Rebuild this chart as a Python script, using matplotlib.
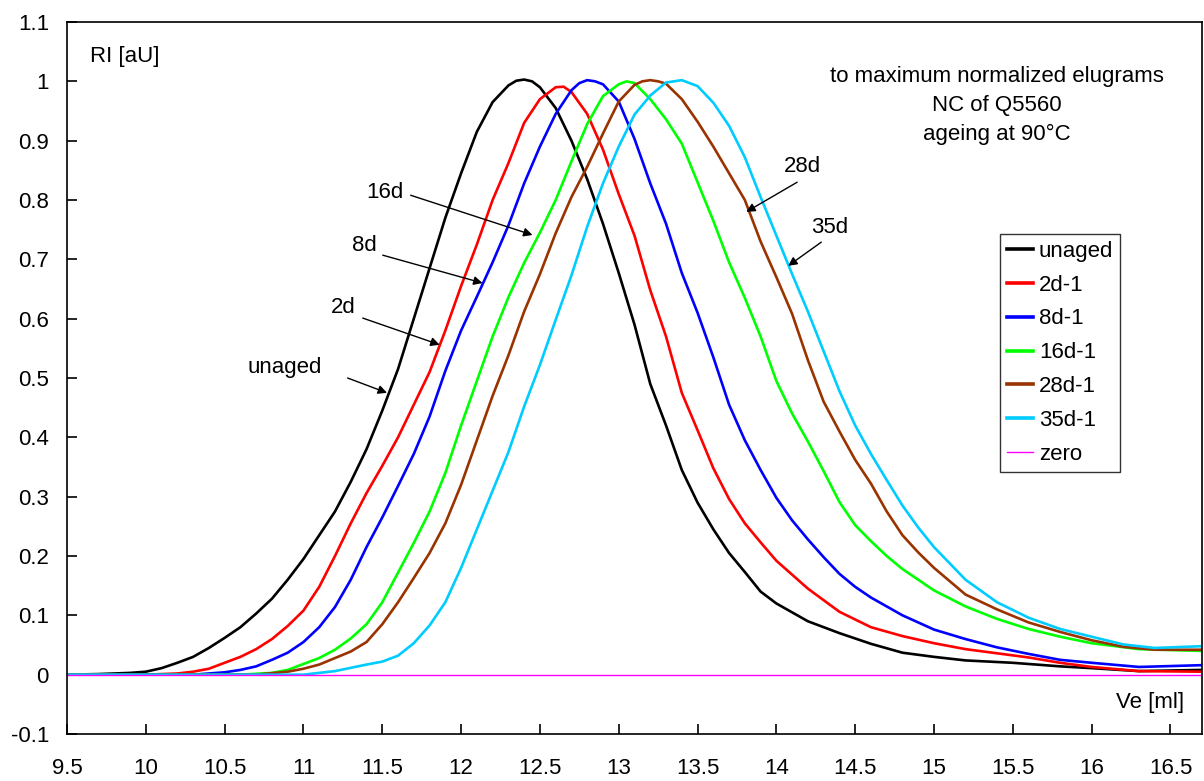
import matplotlib
matplotlib.use("Agg")
import matplotlib.pyplot as plt
import numpy as np

plt.rcParams['font.family'] = ['Liberation Sans', 'DejaVu Sans']

# ---------------- data ----------------
x_unaged = [9.5, 9.7, 9.9, 10.0, 10.1, 10.2, 10.3, 10.4, 10.5, 10.6, 10.7, 10.8, 10.9,
            11.0, 11.1, 11.2, 11.3, 11.4, 11.5, 11.6, 11.7, 11.8, 11.9, 12.0, 12.1, 12.2,
            12.3, 12.35, 12.4, 12.45, 12.5, 12.6, 12.7, 12.8, 12.9, 13.0, 13.1, 13.2, 13.3, 13.4, 13.5,
            13.6, 13.7, 13.8, 13.9, 14.0, 14.2, 14.4, 14.6, 14.8, 15.0, 15.2, 15.5, 15.8,
            16.0, 16.3, 16.7]
y_unaged = [0.0, 0.001, 0.003, 0.005, 0.011, 0.02, 0.03, 0.045, 0.062, 0.08, 0.103, 0.128, 0.16,
            0.195, 0.235, 0.275, 0.325, 0.38, 0.445, 0.515, 0.6, 0.685, 0.77, 0.845, 0.915, 0.965,
            0.993, 1.001, 1.003, 1.0, 0.99, 0.955, 0.9, 0.835, 0.76, 0.677, 0.59, 0.49, 0.42, 0.345, 0.29,
            0.245, 0.205, 0.173, 0.14, 0.12, 0.09, 0.07, 0.052, 0.037, 0.03, 0.024, 0.02, 0.014,
            0.011, 0.006, 0.008]

x_2d = [9.5, 10.0, 10.2, 10.3, 10.4, 10.5, 10.6, 10.7, 10.8, 10.9, 11.0, 11.1, 11.2, 11.3,
        11.4, 11.5, 11.6, 11.7, 11.8, 11.9, 12.0, 12.1, 12.2, 12.3, 12.4, 12.5, 12.6, 12.65, 12.7,
        12.8, 12.9, 13.0, 13.1, 13.2, 13.3, 13.4, 13.5, 13.6, 13.7, 13.8, 13.9, 14.0, 14.2,
        14.4, 14.6, 14.8, 15.0, 15.2, 15.4, 15.6, 15.8, 16.0, 16.3, 16.7]
y_2d = [0.0, 0.0, 0.002, 0.005, 0.01, 0.02, 0.03, 0.043, 0.06, 0.082, 0.108, 0.148, 0.2, 0.255,
        0.306, 0.352, 0.4, 0.455, 0.51, 0.58, 0.655, 0.725, 0.8, 0.862, 0.93, 0.97, 0.99, 0.991, 0.982,
        0.945, 0.885, 0.81, 0.74, 0.648, 0.57, 0.475, 0.412, 0.348, 0.296, 0.255, 0.223, 0.192, 0.145,
        0.106, 0.08, 0.065, 0.053, 0.043, 0.036, 0.029, 0.02, 0.013, 0.006, 0.005]

x_8d = [9.5, 10.3, 10.5, 10.6, 10.7, 10.8, 10.9, 11.0, 11.1, 11.2, 11.3, 11.4, 11.5, 11.6,
        11.7, 11.8, 11.9, 12.0, 12.1, 12.2, 12.3, 12.4, 12.5, 12.6, 12.7, 12.75, 12.8, 12.85, 12.9, 13.0,
        13.1, 13.2, 13.3, 13.4, 13.5, 13.6, 13.7, 13.8, 13.9, 14.0, 14.1, 14.2, 14.3, 14.4,
        14.5, 14.6, 14.8, 15.0, 15.2, 15.4, 15.6, 15.8, 16.0, 16.3, 16.7]
y_8d = [0.0, 0.0, 0.004, 0.008, 0.014, 0.025, 0.037, 0.055, 0.08, 0.114, 0.16, 0.215, 0.265, 0.318,
        0.372, 0.435, 0.512, 0.58, 0.637, 0.695, 0.757, 0.828, 0.89, 0.945, 0.985, 0.997, 1.002, 1.0,
        0.995, 0.966, 0.903, 0.828, 0.76, 0.677, 0.61, 0.535, 0.455, 0.395, 0.345, 0.298, 0.26, 0.228,
        0.198, 0.17, 0.148, 0.13, 0.1, 0.076, 0.06, 0.046, 0.035, 0.025, 0.02, 0.013, 0.016]

x_16d = [9.5, 10.6, 10.8, 10.9, 11.0, 11.1, 11.2, 11.3, 11.4, 11.5, 11.6, 11.7, 11.8, 11.9,
         12.0, 12.1, 12.2, 12.3, 12.4, 12.5, 12.6, 12.7, 12.8, 12.9, 13.0, 13.05, 13.1, 13.2, 13.3,
         13.4, 13.5, 13.6, 13.7, 13.8, 13.9, 14.0, 14.1, 14.2, 14.3, 14.4, 14.5, 14.6, 14.7,
         14.8, 14.9, 15.0, 15.2, 15.4, 15.6, 15.8, 16.0, 16.3, 16.7]
y_16d = [0.0, 0.0, 0.003, 0.008, 0.018, 0.028, 0.042, 0.061, 0.085, 0.122, 0.172, 0.222, 0.275, 0.34,
         0.42, 0.495, 0.57, 0.636, 0.694, 0.745, 0.8, 0.865, 0.928, 0.975, 0.995, 1.0, 0.997, 0.97, 0.936,
         0.895, 0.83, 0.765, 0.695, 0.635, 0.57, 0.495, 0.44, 0.393, 0.343, 0.291, 0.252, 0.225, 0.2,
         0.178, 0.16, 0.142, 0.115, 0.094, 0.077, 0.064, 0.053, 0.043, 0.04]

x_28d = [9.5, 10.7, 10.9, 11.0, 11.1, 11.2, 11.3, 11.4, 11.5, 11.6, 11.7, 11.8, 11.9, 12.0,
         12.1, 12.2, 12.3, 12.4, 12.5, 12.6, 12.7, 12.8, 12.9, 13.0, 13.1, 13.15, 13.2, 13.25, 13.3, 13.4,
         13.5, 13.6, 13.7, 13.8, 13.9, 14.0, 14.1, 14.2, 14.3, 14.4, 14.5, 14.6, 14.7, 14.8,
         14.9, 15.0, 15.2, 15.4, 15.6, 15.8, 16.0, 16.2, 16.4, 16.7]
y_28d = [0.0, 0.0, 0.005, 0.01, 0.017, 0.028, 0.039, 0.055, 0.085, 0.122, 0.163, 0.205, 0.255, 0.32,
         0.395, 0.47, 0.538, 0.612, 0.675, 0.744, 0.805, 0.856, 0.912, 0.966, 0.994, 1.0, 1.002, 1.0, 0.996,
         0.97, 0.932, 0.89, 0.845, 0.8, 0.73, 0.67, 0.608, 0.53, 0.46, 0.41, 0.362, 0.322, 0.275, 0.235,
         0.206, 0.18, 0.135, 0.11, 0.088, 0.072, 0.058, 0.047, 0.042, 0.042]

x_35d = [9.5, 11.0, 11.2, 11.4, 11.5, 11.6, 11.7, 11.8, 11.9, 12.0, 12.1, 12.2, 12.3, 12.4,
         12.5, 12.6, 12.7, 12.8, 12.9, 13.0, 13.1, 13.2, 13.3, 13.4, 13.5, 13.6, 13.7, 13.8,
         13.9, 14.0, 14.1, 14.2, 14.3, 14.4, 14.5, 14.6, 14.7, 14.8, 14.9, 15.0, 15.2, 15.4,
         15.6, 15.8, 16.0, 16.2, 16.4, 16.7]
y_35d = [0.0, 0.0, 0.006, 0.017, 0.022, 0.032, 0.053, 0.083, 0.122, 0.18, 0.245, 0.31, 0.375, 0.452,
         0.522, 0.598, 0.673, 0.755, 0.828, 0.89, 0.944, 0.976, 0.998, 1.002, 0.992, 0.964, 0.925, 0.872,
         0.805, 0.74, 0.675, 0.612, 0.545, 0.478, 0.42, 0.372, 0.328, 0.285, 0.248, 0.215, 0.16, 0.122,
         0.096, 0.077, 0.064, 0.051, 0.045, 0.048]

x_zero = [9.5, 16.7]
y_zero = [0.0, 0.0]

labels = ["unaged", "2d-1", "8d-1", "16d-1", "28d-1", "35d-1", "zero"]
colors = ["#000000", "#ff0000", "#0000ff", "#00ff00", "#993300", "#00ccff", "#ff00ff"]

x_ticks = [9.5, 10, 10.5, 11, 11.5, 12, 12.5, 13, 13.5, 14, 14.5, 15, 15.5, 16, 16.5]
y_ticks = [-0.1, 0, 0.1, 0.2, 0.3, 0.4, 0.5, 0.6, 0.7, 0.8, 0.9, 1, 1.1]

# ---------------- figure ----------------
W, H = 1204, 781
FS = 16
fig = plt.figure(figsize=(W / 100, H / 100), dpi=100)
ax = fig.add_axes([67 / W, (H - 734) / H, (1202 - 67) / W, (734 - 22) / H])

series = [(x_unaged, y_unaged), (x_2d, y_2d), (x_8d, y_8d), (x_16d, y_16d),
          (x_28d, y_28d), (x_35d, y_35d)]
for (xs, ys), lab, col in zip(series, labels[:-1], colors[:-1]):
    ax.plot(xs, ys, color=col, lw=1.9, label=lab, solid_joinstyle='round')
ax.plot(x_zero, y_zero, color=colors[-1], lw=1.0, label=labels[-1])

ax.set_xlim(9.5, 16.7)
ax.set_ylim(-0.1, 1.1)
ax.set_xticks(x_ticks)
ax.set_xticklabels([f"{v:g}" for v in x_ticks])
ax.set_yticks(y_ticks)
ax.set_yticklabels([f"{v:g}" for v in y_ticks])
ax.tick_params(direction='in', length=7, width=1.2, labelsize=FS, colors='black')
ax.tick_params(axis='x', pad=17)
ax.tick_params(axis='y', pad=13)
for s in ax.spines.values():
    s.set_linewidth(1.2)
    s.set_color('black')

ax.text(0.020, 0.951, "RI [aU]", transform=ax.transAxes, fontsize=FS, ha='left', va='center')
ax.text(0.984, 0.044, "Ve [ml]", transform=ax.transAxes, fontsize=FS, ha='right', va='center')
ax.text(15.4, 1.026, "to maximum normalized elugrams\nNC of Q5560\nageing at 90°C",
        fontsize=FS, ha='center', va='top', linespacing=1.5)

# annotations: (label, text pos, arrow start, arrow tip)
annots = [
    ("unaged", (10.88, 0.518), (11.28, 0.500), (11.53, 0.475)),
    ("2d", (11.255, 0.618), (11.376, 0.601), (11.864, 0.556)),
    ("8d", (11.389, 0.724), (11.503, 0.707), (12.136, 0.660)),
    ("16d", (11.515, 0.813), (11.68, 0.808), (12.453, 0.741)),
    ("28d", (14.164, 0.856), (14.132, 0.830), (13.809, 0.780)),
    ("35d", (14.335, 0.753), (14.285, 0.729), (14.075, 0.689)),
]
for lab, tp, st, tip in annots:
    ax.text(tp[0], tp[1], lab, fontsize=FS, ha='center', va='center')
    ax.annotate("", xy=tip, xytext=st,
                arrowprops=dict(arrowstyle='-|>', color='black', lw=1.0,
                                mutation_scale=13, shrinkA=0, shrinkB=0))

leg = ax.legend(loc='upper left', bbox_to_anchor=(1000 / W, (H - 234) / H),
                bbox_transform=fig.transFigure, fontsize=FS, frameon=True, fancybox=False,
                edgecolor='black', handlelength=1.2, handletextpad=0.25, labelspacing=0.58,
                borderpad=0.3, borderaxespad=0)
leg.get_frame().set_linewidth(1.0)
for h in leg.get_lines()[:-1]:
    h.set_linewidth(2.6)

fig.savefig("out.png", dpi=100)
